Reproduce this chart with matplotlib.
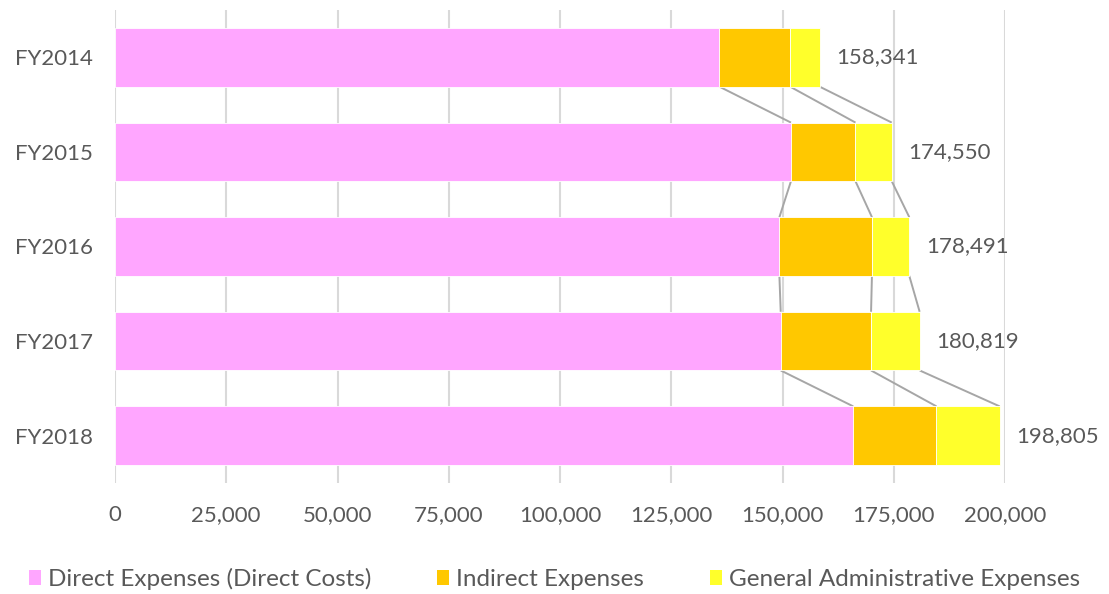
import matplotlib
matplotlib.use("Agg")
import matplotlib.pyplot as plt
import numpy as np
from matplotlib.patches import Patch

years = ["FY2014", "FY2015", "FY2016", "FY2017", "FY2018"]
direct = [135800, 151900, 149300, 149600, 165900]
indirect = [15900, 14500, 20800, 20300, 18700]
totals = [158341, 174550, 178491, 180819, 198805]
general_admin = [t - d - i for t, d, i in zip(totals, direct, indirect)]

series_names = ["Direct Expenses (Direct Costs)", "Indirect Expenses",
                "General Administrative Expenses"]
colors = ["#FFA6FF", "#FFC800", "#FFFF2B"]
text_color = "#595959"

plt.rcParams["font.family"] = ["Lato", "DejaVu Sans"]

fig = plt.figure(figsize=(11.09, 5.94), dpi=100)
ax = fig.add_axes([115 / 1109, (594 - 483) / 594, 890 / 1109, 473 / 594])

y = np.arange(len(years))
bar_h = 0.62
left = np.zeros(len(years))
stacks = [direct, indirect, general_admin]
edges = []
for vals, col in zip(stacks, colors):
    vals = np.array(vals, dtype=float)
    ax.barh(y, vals, left=left, height=bar_h, color=col,
            edgecolor="white", linewidth=0.6, zorder=3)
    left = left + vals
    edges.append(left.copy())

# series lines joining segment boundaries of neighbouring bars
for e in edges:
    for k in range(len(years) - 1):
        ax.plot([e[k], e[k + 1]], [y[k] + bar_h / 2, y[k + 1] - bar_h / 2],
                color="#A6A6A6", linewidth=1.4, zorder=2,
                solid_capstyle="butt")

for k, t in enumerate(totals):
    ax.annotate(f"{t:,}", xy=(t, y[k]), xytext=(12, 0),
                textcoords="offset points", va="center", ha="left",
                fontsize=16, color=text_color)

ax.set_xlim(0, 200000)
ax.set_ylim(len(years) - 0.5, -0.5)
ax.set_xticks(np.arange(0, 200001, 25000))
ax.set_xticklabels([f"{v:,}" for v in range(0, 200001, 25000)])
ax.set_yticks(y)
ax.set_yticklabels(years)
ax.grid(axis="x", color="#D9D9D9", linewidth=1.5, zorder=0)
ax.set_axisbelow(True)
for s in ax.spines.values():
    s.set_visible(False)
ax.tick_params(axis="x", length=0, pad=16, labelsize=16, labelcolor=text_color)
ax.tick_params(axis="y", length=0, pad=16, labelsize=16, labelcolor=text_color)

handles = [Patch(facecolor=c, edgecolor="none") for c in colors]
fig.legend(handles, series_names, loc="lower center", ncol=3,
           bbox_to_anchor=(0.5, -0.03), frameon=False, fontsize=17.5,
           labelcolor=text_color, handlelength=0.5, handleheight=0.55,
           handletextpad=0.3, columnspacing=2.7)

fig.savefig("out.png", dpi=100, facecolor="white")
